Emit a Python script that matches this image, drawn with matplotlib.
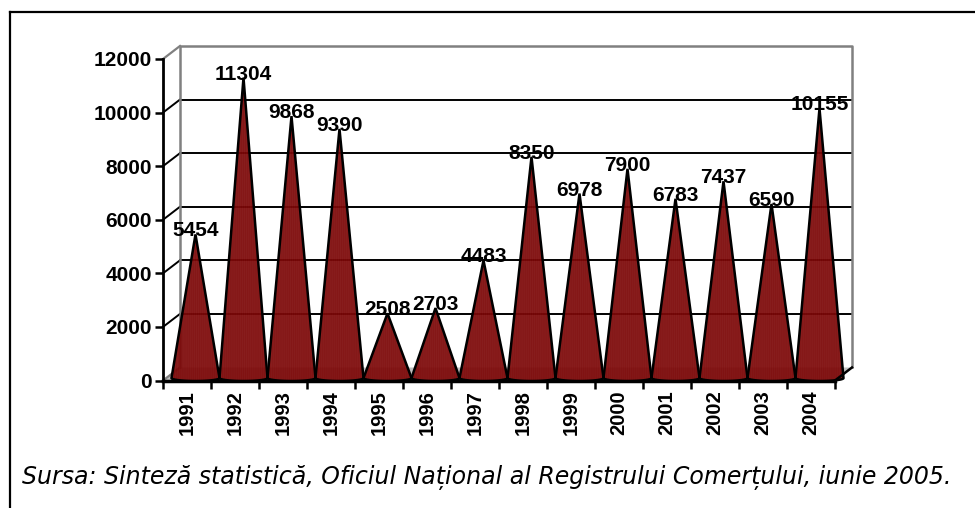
import numpy as np
import matplotlib
matplotlib.use("Agg")
import matplotlib.pyplot as plt
from matplotlib.patches import Polygon
from matplotlib.colors import LinearSegmentedColormap

plt.rcParams['font.family'] = ['Liberation Sans', 'DejaVu Sans']

years = ['1991', '1992', '1993', '1994', '1995', '1996', '1997',
         '1998', '1999', '2000', '2001', '2002', '2003', '2004']
values = [5454, 11304, 9868, 9390, 2508, 2703, 4483,
          8350, 6978, 7900, 6783, 7437, 6590, 10155]
yticks = [0, 2000, 4000, 6000, 8000, 10000, 12000]
caption = "Sursa: Sinteză statistică, Oficiul Național al Registrului Comerțului, iunie 2005."

W, H = 975, 508
fig = plt.figure(figsize=(W / 100, H / 100), dpi=100)

# outer frame (extends beyond the image at right and bottom)
fig.add_artist(plt.Line2D([10 / W, 10 / W], [0, 1 - 12 / H], transform=fig.transFigure,
                          color='black', lw=1.6))
fig.add_artist(plt.Line2D([10 / W, 1], [1 - 12 / H, 1 - 12 / H], transform=fig.transFigure,
                          color='black', lw=1.6))

ax = fig.add_axes([163 / W, (H - 380.5) / H, 672 / W, 321.5 / H])
n = len(years)
ymax = 12000
ax.set_xlim(0, n)
ax.set_ylim(0, ymax)
ax.patch.set_visible(False)
for s in ['top', 'right']:
    ax.spines[s].set_visible(False)
ax.spines['left'].set_linewidth(2)
ax.spines['bottom'].set_linewidth(2.5)
ax.spines['left'].set_zorder(1)
ax.spines['bottom'].set_zorder(1)

# depth offset (3D look)
dx = 0.354
dy = 486

gray = '#808080'
# floor
floor = Polygon([[0, 0], [n, 0], [n + dx, dy], [dx, dy]], closed=True,
                facecolor='#c0c0c0', edgecolor='none', zorder=0.5, clip_on=False)
ax.add_patch(floor)
# back wall gridlines
for v in yticks[1:-1]:
    ax.plot([dx, n + dx], [v + dy, v + dy], color='black', lw=1.4, clip_on=False, zorder=0.8)
    ax.plot([0, dx], [v, v + dy], color='black', lw=1.4, clip_on=False, zorder=0.8)
ax.plot([0, dx], [ymax, ymax + dy], color=gray, lw=1.6, clip_on=False, zorder=0.8)
ax.plot([0, dx], [0, dy], color=gray, lw=1.6, clip_on=False, zorder=0.8)
# back wall border
ax.plot([dx, dx, n + dx, n + dx], [dy, ymax + dy, ymax + dy, dy], color=gray, lw=1.8,
        clip_on=False, zorder=0.8)
# floor right edge
ax.plot([n, n + dx], [0, dy], color='black', lw=1.8, clip_on=False, zorder=3)

# pyramid fill texture
cmap = LinearSegmentedColormap.from_list('red3d', ['#720000', '#860606', '#b85a5a'])
cols = np.arange(400)
stripe = 0.5 + 0.5 * np.sin(cols * 2 * np.pi / 3.2)
stripe = np.clip(stripe, 0, 1) ** 3 * 0.75
tex = np.tile(stripe, (10, 1))

half = 0.5
ell = 110
for i, v in enumerate(values):
    cx = i + 0.5 + dx / 2
    base_y = 90
    t = np.linspace(0, np.pi, 30)
    arc_x = cx + half * np.cos(t)
    arc_y = base_y - ell * np.sin(t)
    pts = [[cx, v]] + [[x, y] for x, y in zip(arc_x, arc_y)]
    poly = Polygon(pts, closed=True, facecolor='none', edgecolor='black', lw=1.8,
                   zorder=2 + i * 0.01, clip_on=False)
    ax.add_patch(poly)
    im = ax.imshow(tex, cmap=cmap, vmin=0, vmax=1, aspect='auto', interpolation='bilinear',
                   extent=[cx - half, cx + half, base_y - ell, v], zorder=1.9 + i * 0.01,
                   alpha=0.93)
    im.set_clip_box(fig.bbox)
    im.set_clip_path(poly)
    ax.annotate(str(v), xy=(cx, v), xytext=(0, -6), textcoords='offset pixels',
                ha='center', va='bottom', fontsize=15, fontweight='bold', zorder=5,
                annotation_clip=False)

ax.set_xlim(0, n)
ax.set_ylim(0, ymax)

# ticks
ax.set_yticks(yticks)
ax.set_yticklabels([str(t) for t in yticks], fontsize=15, fontweight='bold')
ax.tick_params(axis='y', length=6, width=1.8, pad=2)
ax.set_xticks(np.arange(n + 1))
ax.set_xticklabels([''] * (n + 1))
ax.set_xticks(np.arange(n) + 0.5, minor=True)
ax.set_xticklabels(years, minor=True, rotation=90, fontsize=14.5, fontweight='bold')
ax.tick_params(axis='x', which='major', length=6, width=1.8)
ax.tick_params(axis='x', which='minor', length=0, pad=7)

fig.text(22 / W, 1 - 478 / H, caption, fontsize=17, style='italic', ha='left', va='center',
         family=['DejaVu Sans'])

fig.savefig('out.png', dpi=100)
